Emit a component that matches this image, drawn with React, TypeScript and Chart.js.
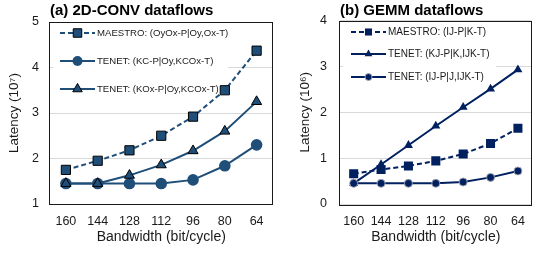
import React, { useEffect, useRef } from 'react';
import { Chart, registerables } from 'chart.js';

Chart.register(...registerables);

const bandwidth = ['160', '144', '128', '112', '96', '80', '64'];

const convMaestro = [1.75, 1.95, 2.18, 2.5, 2.92, 3.5, 4.37];
const convTenetKC = [1.45, 1.45, 1.45, 1.45, 1.53, 1.84, 2.3];
const convTenetKOx = [1.45, 1.45, 1.63, 1.86, 2.17, 2.6, 3.25];

const gemmMaestro = [0.66, 0.75, 0.83, 0.94, 1.09, 1.32, 1.65];
const gemmTenetKJ = [0.45, 0.86, 1.28, 1.7, 2.11, 2.51, 2.93];
const gemmTenetIJ = [0.45, 0.45, 0.45, 0.45, 0.48, 0.58, 0.72];

const convLabels = ['MAESTRO: (OyOx-P|Oy,Ox-T)', 'TENET: (KC-P|Oy,KCOx-T)', 'TENET: (KOx-P|Oy,KCOx-T)'];
const gemmLabels = ['MAESTRO: (IJ-P|K-T)', 'TENET: (KJ-P|K,IJK-T)', 'TENET: (IJ-P|J,IJK-T)'];

const convTicks = [1, 2, 3, 4, 5];
const gemmTicks = [0, 1, 2, 3, 4];

const FONT = "'Liberation Sans', Arial, sans-serif";
const TEXT = '#1a1a1a';
const CONV_COLOR = '#1F4E79';
const GEMM_COLOR = '#002060';

function drawMarker(ctx: CanvasRenderingContext2D, style: string, x: number, y: number, r: number, fill: string, stroke: string, sw: number) {
  ctx.save();
  ctx.setLineDash([]);
  ctx.beginPath();
  if (style === 'rect') {
    const s = r * Math.SQRT1_2;
    ctx.rect(x - s, y - s, 2 * s, 2 * s);
  } else if (style === 'triangle') {
    const a = (Math.PI / 180) * 60;
    ctx.moveTo(x, y - r);
    ctx.lineTo(x + Math.sin(a) * r, y + Math.cos(a) * r);
    ctx.lineTo(x - Math.sin(a) * r, y + Math.cos(a) * r);
    ctx.closePath();
  } else {
    ctx.arc(x, y, r, 0, Math.PI * 2);
  }
  ctx.fillStyle = fill;
  ctx.fill();
  if (sw > 0) {
    ctx.lineWidth = sw;
    ctx.strokeStyle = stroke;
    ctx.stroke();
  }
  ctx.restore();
}

interface LegendItem { label: string; dashed: boolean; style: string; r: number; stroke: string; sw: number; }

interface PanelCfg {
  title: string;
  yTitle: string;
  min: number;
  max: number;
  ticks: number[];
  color: string;
  datasets: any[];
  padTop: number;
  padRight: number;
  yWidth: number;
  yTickPad: number;
  yTitlePad: number;
  legendFont: number;
  legend: { box: [number, number, number, number]; x1: number; x2: number; tx: number; rows: number[]; items: LegendItem[] };
}

function makeChart(canvas: HTMLCanvasElement, cfg: PanelCfg) {
  const panelPlugin = {
    id: 'panelDecor',
    beforeDatasetsDraw(chart: any) {
      const ctx = chart.ctx as CanvasRenderingContext2D;
      const L = cfg.legend;
      ctx.save();
      ctx.fillStyle = '#ffffff';
      ctx.fillRect(L.box[0], L.box[1], L.box[2] - L.box[0], L.box[3] - L.box[1]);
      L.items.forEach((it, i) => {
        const y = L.rows[i];
        ctx.save();
        ctx.strokeStyle = cfg.color;
        ctx.lineWidth = 2;
        ctx.setLineDash(it.dashed ? [5, 3] : []);
        ctx.beginPath();
        ctx.moveTo(L.x1, y);
        ctx.lineTo(L.x2, y);
        ctx.stroke();
        ctx.restore();
        drawMarker(ctx, it.style, (L.x1 + L.x2) / 2, y, it.r, cfg.color, it.stroke, it.sw);
        ctx.fillStyle = TEXT;
        ctx.font = `${cfg.legendFont}px ${FONT}`;
        ctx.textAlign = 'left';
        ctx.textBaseline = 'middle';
        ctx.fillText(it.label, L.tx, y + 0.5);
      });
      ctx.restore();
    },
    afterDraw(chart: any) {
      const ctx = chart.ctx as CanvasRenderingContext2D;
      const a = chart.chartArea;
      ctx.save();
      ctx.strokeStyle = '#1a1a1a';
      ctx.lineWidth = 1;
      ctx.strokeRect(Math.round(a.left) - 0.5, Math.round(a.top) + 0.5, Math.round(a.right - a.left), Math.round(a.bottom - a.top));
      ctx.fillStyle = '#000';
      ctx.font = `bold 15px ${FONT}`;
      ctx.textAlign = 'left';
      ctx.textBaseline = 'middle';
      ctx.fillText(cfg.title, a.left, 11);
      ctx.restore();
    },
  };

  return new Chart(canvas, {
    type: 'line',
    data: { labels: bandwidth, datasets: cfg.datasets },
    options: {
      responsive: false,
      animation: false,
      events: [],
      layout: { padding: { top: cfg.padTop, left: 0, right: cfg.padRight, bottom: 0 } },
      plugins: { legend: { display: false }, tooltip: { enabled: false }, title: { display: false } },
      scales: {
        x: {
          type: 'category',
          offset: true,
          grid: { display: false, drawTicks: false },
          border: { display: false },
          ticks: { color: TEXT, font: { family: FONT, size: 12.5 }, padding: 10, maxRotation: 0, autoSkip: false },
          title: { display: true, text: 'Bandwidth (bit/cycle)', color: TEXT, font: { family: FONT, size: 14 }, padding: { top: 0, bottom: 9 } },
          afterFit: (s: any) => { s.height = 51; },
        },
        y: {
          min: cfg.min,
          max: cfg.max,
          afterBuildTicks: (s: any) => { s.ticks = cfg.ticks.map((v) => ({ value: v })); },
          grid: { color: '#d9d9d9', lineWidth: 1, drawTicks: false },
          border: { display: false },
          ticks: { color: TEXT, font: { family: FONT, size: 12.5 }, padding: cfg.yTickPad },
          title: { display: true, text: cfg.yTitle, color: TEXT, font: { family: FONT, size: 13.5 }, padding: { top: cfg.yTitlePad, bottom: 0 } },
          afterFit: (s: any) => { s.width = cfg.yWidth; },
        },
      },
    },
    plugins: [panelPlugin],
  } as any);
}

function ds(label: string, data: number[], color: string, style: string, r: number, dashed: boolean, border: string, bw: number, order: number) {
  return {
    label,
    data,
    borderColor: color,
    backgroundColor: color,
    borderWidth: 2,
    borderDash: dashed ? [5, 3] : [],
    pointStyle: style,
    pointRadius: r,
    pointBackgroundColor: color,
    pointBorderColor: border,
    pointBorderWidth: bw,
    tension: 0,
    fill: false,
    order,
  };
}

export default function App() {
  const leftRef = useRef<HTMLCanvasElement>(null);
  const rightRef = useRef<HTMLCanvasElement>(null);

  useEffect(() => {
    const left = makeChart(leftRef.current!, {
      title: '(a) 2D-CONV dataflows',
      yTitle: 'Latency (10⁷)',
      min: 1,
      max: 5,
      ticks: convTicks,
      color: CONV_COLOR,
      datasets: [
        ds(convLabels[0], convMaestro, CONV_COLOR, 'rect', 6.5, true, '#000', 1, 2),
        ds(convLabels[1], convTenetKC, CONV_COLOR, 'circle', 5.8, false, CONV_COLOR, 0, 1),
        ds(convLabels[2], convTenetKOx, CONV_COLOR, 'triangle', 5.8, false, '#000', 1, 0),
      ],
      padTop: 22,
      padRight: 2,
      yWidth: 50,
      yTickPad: 11,
      yTitlePad: 6,
      legendFont: 9.6,
      legend: {
        box: [53, 24, 228, 101],
        x1: 60,
        x2: 95,
        tx: 97,
        rows: [33, 61, 89],
        items: [
          { label: convLabels[0], dashed: true, style: 'rect', r: 6, stroke: '#000', sw: 1 },
          { label: convLabels[1], dashed: false, style: 'circle', r: 5, stroke: CONV_COLOR, sw: 0 },
          { label: convLabels[2], dashed: false, style: 'triangle', r: 5.5, stroke: '#000', sw: 1 },
        ],
      },
    });
    const right = makeChart(rightRef.current!, {
      title: '(b) GEMM dataflows',
      yTitle: 'Latency (10⁶)',
      min: 0,
      max: 4,
      ticks: gemmTicks,
      color: GEMM_COLOR,
      datasets: [
        ds(gemmLabels[0], gemmMaestro, GEMM_COLOR, 'rect', 6.4, true, GEMM_COLOR, 0, 2),
        ds(gemmLabels[1], gemmTenetKJ, GEMM_COLOR, 'triangle', 5.2, false, GEMM_COLOR, 0, 1),
        ds(gemmLabels[2], gemmTenetIJ, GEMM_COLOR, 'circle', 4, false, 'rgba(170,170,185,0.9)', 1, 0),
      ],
      padTop: 18,
      padRight: 0,
      yWidth: 58,
      yTickPad: 13,
      yTitlePad: 15,
      legendFont: 10,
      legend: {
        box: [61, 21, 214, 87],
        x1: 69,
        x2: 104,
        tx: 106,
        rows: [32, 54, 77],
        items: [
          { label: gemmLabels[0], dashed: true, style: 'rect', r: 5, stroke: GEMM_COLOR, sw: 0 },
          { label: gemmLabels[1], dashed: false, style: 'triangle', r: 4.5, stroke: GEMM_COLOR, sw: 0 },
          { label: gemmLabels[2], dashed: false, style: 'circle', r: 3.5, stroke: 'rgba(170,170,185,0.9)', sw: 1 },
        ],
      },
    });
    return () => {
      left.destroy();
      right.destroy();
    };
  }, []);

  return (
    <div style={{ position: 'fixed', left: 0, top: 0, width: 538, height: 255, background: '#fff', overflow: 'hidden' }}>
      <canvas ref={leftRef} width={280} height={255} style={{ position: 'absolute', left: 0, top: 0, width: 280, height: 255 }} />
      <canvas ref={rightRef} width={256} height={255} style={{ position: 'absolute', left: 282, top: 0, width: 256, height: 255 }} />
    </div>
  );
}
